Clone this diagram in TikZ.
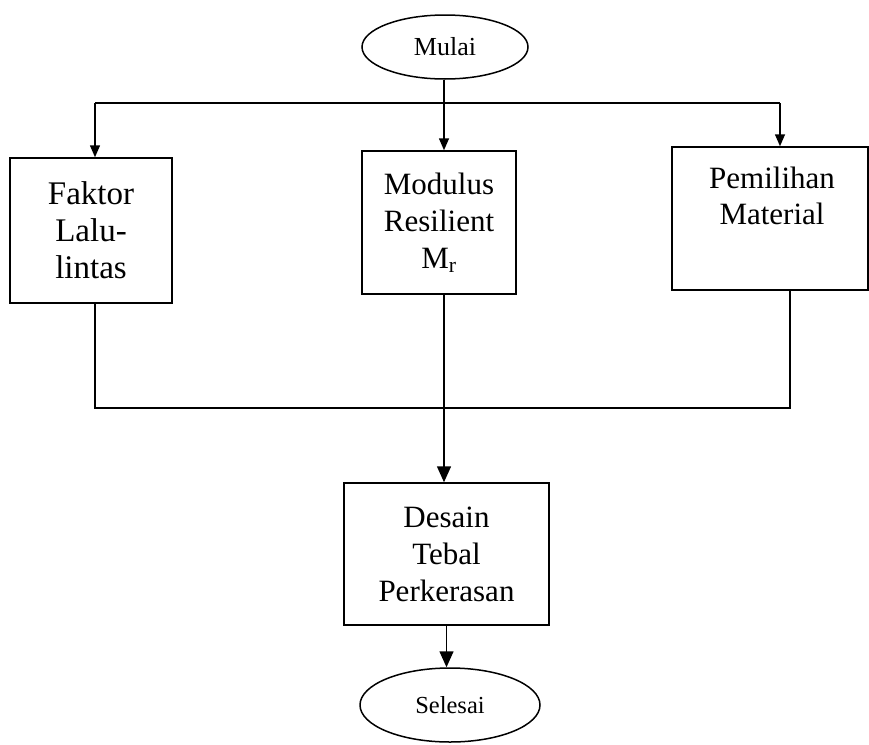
\documentclass[tikz,border=0pt]{standalone}
\usepackage{fontspec}
\setmainfont{Liberation Serif}
\usetikzlibrary{arrows.meta,shapes.geometric}
\begin{document}
\begin{tikzpicture}[x=1pt,y=-1pt,line width=1.5pt,
  box/.style={draw,rectangle,inner sep=0pt,align=center,font=\fontsize{31}{37}\selectfont},
  txt/.style={inner sep=0pt,align=center,font=\fontsize{31}{36}\selectfont},
  term/.style={draw,ellipse,inner sep=0pt},
  arr/.style={-{Triangle[length=12pt,width=10pt]}},
  bigarr/.style={-{Triangle[length=16pt,width=14pt]}}]
\useasboundingbox (0,0) rectangle (869,744);
\node[term,minimum width=166pt,minimum height=64pt,font=\fontsize{26}{30}\selectfont] (mulai) at (445,47) {Mulai};
\node[box,minimum width=162pt,minimum height=145pt,font=\fontsize{33}{37}\selectfont] (faktor) at (91,230.5) {Faktor\\Lalu-\\lintas};
\node[box,minimum width=154pt,minimum height=143pt] (modulus) at (439,222.5) {Modulus\\Resilient\\M\textsubscript{r}};
\node[box,minimum width=196pt,minimum height=143pt] (pemilihan) at (770,218.5) {};
\node[txt] (pemtext) at (772,196) {Pemilihan\\Material};
\node[box,minimum width=205pt,minimum height=142pt] (desain) at (446.5,554) {Desain\\Tebal\\Perkerasan};
\node[term,minimum width=180pt,minimum height=74pt,font=\fontsize{24.5}{28}\selectfont] (selesai) at (450,705) {Selesai};
\coordinate (tl) at (95,103);
\coordinate (tm) at (444,103);
\coordinate (tr) at (780,103);
\coordinate (bl) at (95,408);
\coordinate (br) at (790,408);
\draw (mulai.south -| tm) -- (tm);
\draw (tl) -- (tr);
\draw[arr] (tl) -- (tl |- faktor.north);
\draw[arr] (tm) -- (tm |- modulus.north);
\draw[arr] (tr) -- (tr |- pemilihan.north);
\draw (tl |- faktor.south) -- (bl) -- (br) -- (br |- pemilihan.south);
\draw[bigarr] (tm |- modulus.south) -- (tm |- desain.north);
\draw[bigarr] (desain.south) -- (desain.south |- selesai.north);
\end{tikzpicture}
\end{document}
